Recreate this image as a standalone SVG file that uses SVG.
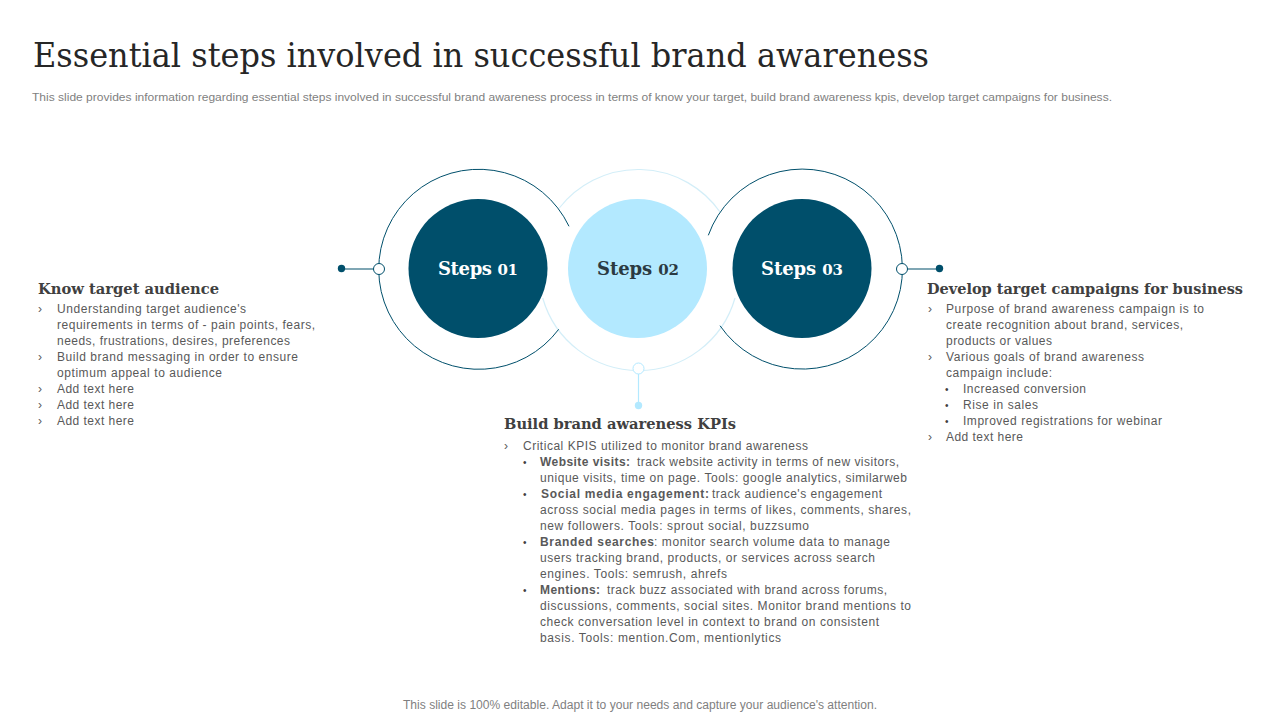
<svg xmlns="http://www.w3.org/2000/svg" width="1280" height="720" viewBox="0 0 1280 720">
<style>
text{font-family:"Liberation Sans",Arial,sans-serif}
.s{font-family:"DejaVu Serif","Liberation Serif",serif}
.title{font-size:33px;fill:#262626}
.sub{font-size:11.5px;fill:#7f7f7f}
.h{font-size:15px;font-weight:700;fill:#404040}
.t{font-size:12px;fill:#595959}
.b{font-weight:700}
.m{font-size:12px;fill:#595959}
.u{font-size:10px;fill:#404040}
.step{font-size:18px;font-weight:700;text-anchor:middle}
.n{font-size:15px}
.dk{fill:#004f6b}.lt{fill:#b3e9ff}
.rd{fill:none;stroke:#004f6b;stroke-width:1}
.rl{fill:none;stroke:#d3eef8;stroke-width:1.200}
</style>
<rect width="1280" height="720" fill="#fff"/>
<g id="header">
<text class="s title" x="33" y="67" textLength="896" lengthAdjust="spacingAndGlyphs">Essential steps involved in successful brand awareness</text>
<text class="sub" x="32" y="101" textLength="1080" lengthAdjust="spacingAndGlyphs">This slide provides information regarding essential steps involved in successful brand awareness process in terms of know your target, build brand awareness kpis, develop target campaigns for business.</text>
</g>
<g id="connectors">
<path class="rl" d="M559.300 208A100 100 0 0 1 720 212"/>
<path class="rl" d="M542.700 298A100 100 0 0 0 735 298"/>
<path class="rd" d="M569 226.300A100 100 0 1 0 558.700 329.300"/>
<path class="rd" d="M708.300 235.300A100 100 0 1 1 720 325.700"/>
<path d="M341 269H379" fill="none" stroke="#004f6b" stroke-width="1.200"/>
<circle class="dk" cx="341.500" cy="268.500" r="3.700"/>
<circle cx="379" cy="269" r="5.500" fill="#fff" stroke="#004f6b"/>
<path d="M902 269H940" fill="none" stroke="#004f6b" stroke-width="1.200"/>
<circle class="dk" cx="939.500" cy="268.500" r="3.700"/>
<circle cx="902" cy="269" r="5.500" fill="#fff" stroke="#004f6b"/>
<path d="M638.500 369V406" fill="none" stroke="#b3e9ff" stroke-width="1.200"/>
<circle class="lt" cx="638.500" cy="405.500" r="3.700"/>
<circle cx="638.500" cy="368.500" r="5.500" fill="#fff" stroke="#b3e9ff"/>
</g>
<g id="step1"><circle class="dk" cx="478" cy="268.500" r="69.500"/><text class="s step" x="478" y="275" fill="#fff" textLength="80">Steps <tspan class="n">01</tspan></text></g>
<g id="step2"><circle class="lt" cx="637.500" cy="268.500" r="69.500"/><text class="s step" x="638" y="275" fill="#2b3a42" textLength="82">Steps <tspan class="n">02</tspan></text></g>
<g id="step3"><circle class="dk" cx="802" cy="268.500" r="69.500"/><text class="s step" x="802" y="275" fill="#fff" textLength="82">Steps <tspan class="n">03</tspan></text></g>
<g id="know-target-audience">
<text class="s h" x="38" y="294" textLength="181" lengthAdjust="spacingAndGlyphs">Know target audience</text>
<text class="m" x="38" y="313">›</text><text class="t" x="57" y="313" textLength="189">Understanding target audience's</text>
<text class="t" x="57" y="329" textLength="258">requirements in terms of - pain points, fears,</text>
<text class="t" x="57" y="345" textLength="233">needs, frustrations, desires, preferences</text>
<text class="m" x="38" y="361">›</text><text class="t" x="57" y="361" textLength="241">Build brand messaging in order to ensure</text>
<text class="t" x="57" y="377" textLength="165">optimum appeal to audience</text>
<text class="m" x="38" y="393">›</text><text class="t" x="57" y="393" textLength="77">Add text here</text>
<text class="m" x="38" y="409">›</text><text class="t" x="57" y="409" textLength="77">Add text here</text>
<text class="m" x="38" y="425">›</text><text class="t" x="57" y="425" textLength="77">Add text here</text>
</g>
<g id="build-brand-awareness">
<text class="s h" x="504" y="429" textLength="232" lengthAdjust="spacingAndGlyphs">Build brand awareness KPIs</text>
<text class="m" x="504" y="450">›</text><text class="t" x="523" y="450" textLength="285">Critical KPIS utilized to monitor brand awareness</text>
<text class="u" x="523" y="466">•</text><text class="t b" x="540" y="466" textLength="90">Website visits:</text><text class="t" x="637" y="466" textLength="262">track website activity in terms of new visitors,</text>
<text class="t" x="540" y="482" textLength="367">unique visits, time on page. Tools: google analytics, similarweb</text>
<text class="u" x="523" y="498">•</text><text class="t b" x="541" y="498" textLength="168">Social media engagement:</text><text class="t" x="712" y="498" textLength="170">track audience's engagement</text>
<text class="t" x="540" y="514" textLength="371">across social media pages in terms of likes, comments, shares,</text>
<text class="t" x="540" y="530" textLength="269">new followers. Tools: sprout social, buzzsumo</text>
<text class="u" x="523" y="546">•</text><text class="t b" x="540" y="546" textLength="114">Branded searches</text><text class="t" x="654" y="546" textLength="236">: monitor search volume data to manage</text>
<text class="t" x="540" y="562" textLength="335">users tracking brand, products, or services across search</text>
<text class="t" x="540" y="578" textLength="187">engines. Tools: semrush, ahrefs</text>
<text class="u" x="523" y="594">•</text><text class="t b" x="540" y="594" textLength="60">Mentions:</text><text class="t" x="607" y="594" textLength="280">track buzz associated with brand across forums,</text>
<text class="t" x="540" y="610" textLength="371">discussions, comments, social sites. Monitor brand mentions to</text>
<text class="t" x="540" y="626" textLength="339">check conversation level in context to brand on consistent</text>
<text class="t" x="540" y="642" textLength="241">basis. Tools: mention.Com, mentionlytics</text>
</g>
<g id="develop-target-campaigns">
<text class="s h" x="927" y="294" textLength="316" lengthAdjust="spacingAndGlyphs">Develop target campaigns for business</text>
<text class="m" x="928" y="313">›</text><text class="t" x="946" y="313" textLength="258">Purpose of brand awareness campaign is to</text>
<text class="t" x="946" y="329" textLength="237">create recognition about brand, services,</text>
<text class="t" x="946" y="345" textLength="106">products or values</text>
<text class="m" x="928" y="361">›</text><text class="t" x="946" y="361" textLength="198">Various goals of brand awareness</text>
<text class="t" x="946" y="377" textLength="106">campaign include:</text>
<text class="u" x="945" y="393">•</text><text class="t" x="963" y="393" textLength="123">Increased conversion</text>
<text class="u" x="945" y="409">•</text><text class="t" x="963" y="409" textLength="75">Rise in sales</text>
<text class="u" x="945" y="425">•</text><text class="t" x="963" y="425" textLength="199">Improved registrations for webinar</text>
<text class="m" x="928" y="441">›</text><text class="t" x="946" y="441" textLength="77">Add text here</text>
</g>
<g id="footer"><text class="sub" x="403" y="709" textLength="474" lengthAdjust="spacingAndGlyphs" style="font-size:12px">This slide is 100% editable. Adapt it to your needs and capture your audience's attention.</text></g>
</svg>
